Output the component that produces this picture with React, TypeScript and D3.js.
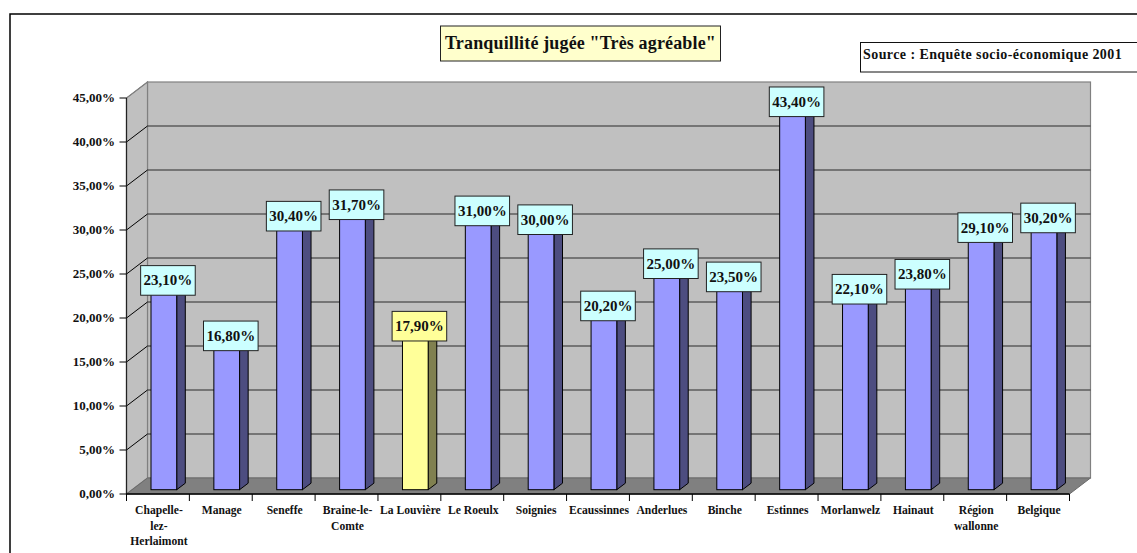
import React, { useEffect, useRef } from 'react';
import * as d3 from 'd3';

const categories = ['Chapelle-|lez-|Herlaimont', 'Manage', 'Seneffe', 'Braine-le-|Comte', 'La Louvière', 'Le Roeulx', 'Soignies', 'Ecaussinnes', 'Anderlues', 'Binche', 'Estinnes', 'Morlanwelz', 'Hainaut', 'Région|wallonne', 'Belgique'];
const values = [23.1, 16.8, 30.4, 31.7, 17.9, 31.0, 30.0, 20.2, 25.0, 23.5, 43.4, 22.1, 23.8, 29.1, 30.2];
const yTicks = [0, 5, 10, 15, 20, 25, 30, 35, 40, 45];
const highlighted = ['La Louvière'];
const titleText = 'Tranquillité jugée "Très agréable"';
const sourceText = 'Source : Enquête socio-économique 2001';

const WIDTH = 1137;
const HEIGHT = 553;
const SERIF = '"Liberation Serif", serif';

// the 3d offset of the back wall
const depthX = 21;
const depthY = 16;

const pct = (v: number) => v.toFixed(2).replace('.', ',') + '%';

export default function App() {
  const ref = useRef<SVGSVGElement>(null);

  useEffect(() => {
    const svg = d3.select(ref.current);
    svg.selectAll('*').remove();

    const x = d3.scaleBand().domain(categories).range([126.5, 1069.5]);
    const y = d3.scaleLinear().domain([0, 45]).range([494, 98]);
    const left = x.range()[0];
    const right = x.range()[1];

    // page frame, runs off the picture on the right and the bottom
    svg.append('rect').attr('x', 10).attr('y', 14).attr('width', 1200).attr('height', 600)
      .attr('fill', 'white').attr('stroke', 'black').attr('stroke-width', 1.5);

    // walls and floor
    svg.append('rect').attr('x', left + depthX).attr('y', y(45) - depthY)
      .attr('width', right - left).attr('height', y(0) - y(45))
      .attr('fill', '#c0c0c0').attr('stroke', '#808080').attr('stroke-width', 1.2);
    svg.append('polygon')
      .attr('points', [[left, y(0)], [left, y(45)], [left + depthX, y(45) - depthY], [left + depthX, y(0) - depthY]].join(' '))
      .attr('fill', '#c0c0c0').attr('stroke', '#808080').attr('stroke-width', 1.2);
    svg.append('polygon')
      .attr('points', [[left, y(0)], [left + depthX, y(0) - depthY], [right + depthX, y(0) - depthY], [right, y(0)]].join(' '))
      .attr('fill', '#808080').attr('stroke', '#6a6a6a');

    // grid
    const grid = svg.append('g').attr('stroke', '#2b2b2b').attr('stroke-width', 1);
    yTicks.filter(t => t > 0 && t < 45).forEach(t => {
      grid.append('line').attr('x1', left + depthX).attr('x2', right + depthX)
        .attr('y1', y(t) - depthY).attr('y2', y(t) - depthY);
    });
    yTicks.filter(t => t > 0).forEach(t => {
      svg.append('line').attr('x1', left).attr('x2', left + depthX)
        .attr('y1', y(t)).attr('y2', y(t) - depthY)
        .attr('stroke', t === 45 ? '#808080' : 'black');
    });

    // axes
    svg.append('line').attr('x1', left).attr('x2', left).attr('y1', y(45)).attr('y2', y(0))
      .attr('stroke', '#222').attr('stroke-width', 1.2);
    svg.append('line').attr('x1', left).attr('x2', right).attr('y1', y(0)).attr('y2', y(0))
      .attr('stroke', 'black').attr('stroke-width', 1.6);
    yTicks.forEach(t => {
      svg.append('line').attr('x1', left - 7).attr('x2', left).attr('y1', y(t)).attr('y2', y(t)).attr('stroke', 'black');
      svg.append('text').attr('x', 115).attr('y', y(t) + 4)
        .attr('text-anchor', 'end').attr('font-family', SERIF).attr('font-weight', 'bold')
        .attr('font-size', 13).attr('fill', '#111').text(pct(t));
    });
    [...categories.map(c => x(c) as number), right].forEach(px => {
      svg.append('line').attr('x1', px).attr('x2', px).attr('y1', y(0)).attr('y2', y(0) + 7).attr('stroke', 'black');
    });

    // category labels
    categories.forEach(c => {
      const t = svg.append('text').attr('font-family', SERIF).attr('font-weight', 'bold')
        .attr('font-size', 11.6).attr('fill', '#111').attr('text-anchor', 'middle');
      c.split('|').forEach((line, i) => {
        t.append('tspan').attr('x', (x(c) as number) + x.bandwidth() / 2 + 1).attr('y', 514 + i * 15.5).text(line);
      });
    });

    // bars
    const barW = 25.7;
    const barX = 24.5; // from band start
    const barLift = 4.3;
    const sideX = 8.6;
    const sideY = 6.5;
    categories.forEach((c, i) => {
      const hl = highlighted.includes(c);
      const x0 = (x(c) as number) + barX;
      const x1 = x0 + barW;
      const yb = y(0) - barLift;
      const yt = y(values[i]) - barLift;
      const g = svg.append('g').attr('stroke', 'black').attr('stroke-width', 1);
      g.append('polygon').attr('points', [[x1, yb], [x1 + sideX, yb - sideY], [x1 + sideX, yt - sideY], [x1, yt]].join(' '))
        .attr('fill', hl ? '#808050' : '#4d4d80');
      g.append('polygon').attr('points', [[x0, yt], [x0 + sideX, yt - sideY], [x1 + sideX, yt - sideY], [x1, yt]].join(' '))
        .attr('fill', hl ? '#cccc7a' : '#7a7acc');
      g.append('rect').attr('x', x0).attr('y', yt).attr('width', barW).attr('height', yb - yt)
        .attr('fill', hl ? '#ffff99' : '#9999ff');
    });

    // value labels
    categories.forEach((c, i) => {
      const hl = highlighted.includes(c);
      const cx = (x(c) as number) + x.bandwidth() / 2 + 10;
      const cy = y(values[i]) - barLift - 6;
      svg.append('rect').attr('x', cx - 27.3).attr('y', cy - 14.8).attr('width', 54.6).attr('height', 29.6)
        .attr('fill', hl ? '#ffff99' : '#ccffff').attr('stroke', '#222').attr('stroke-width', 1);
      svg.append('text').attr('x', cx).attr('y', cy + 5)
        .attr('text-anchor', 'middle').attr('font-family', SERIF).attr('font-weight', 'bold')
        .attr('font-size', 15).attr('fill', '#111').text(pct(values[i]));
    });

    // title
    svg.append('rect').attr('x', 440.5).attr('y', 26).attr('width', 280).attr('height', 35)
      .attr('fill', '#ffffcc').attr('stroke', '#222').attr('stroke-width', 1);
    svg.append('text').attr('x', 580.5).attr('y', 49).attr('text-anchor', 'middle')
      .attr('font-family', SERIF).attr('font-weight', 'bold').attr('font-size', 18).attr('letter-spacing', 0.15)
      .attr('fill', '#111').text(titleText);

    // source
    svg.append('rect').attr('x', 860.5).attr('y', 42.5).attr('width', 300).attr('height', 29.5)
      .attr('fill', 'white').attr('stroke', '#111').attr('stroke-width', 1);
    svg.append('text').attr('x', 863).attr('y', 59)
      .attr('font-family', SERIF).attr('font-weight', 'bold').attr('font-size', 14).attr('letter-spacing', 0.42)
      .attr('fill', '#111').text(sourceText);
  }, []);

  return <svg ref={ref} width={WIDTH} height={HEIGHT} viewBox={`0 0 ${WIDTH} ${HEIGHT}`} style={{ position: 'absolute', left: 0, top: 0 }} />;
}
